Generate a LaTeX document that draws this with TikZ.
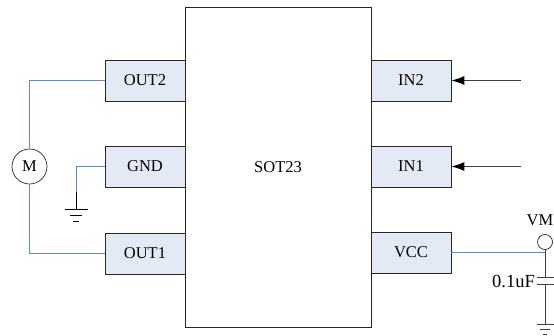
\documentclass[tikz,border=0pt]{standalone}
\usepackage{fontspec}
\setmainfont{Liberation Serif}
\usetikzlibrary{arrows.meta}
\definecolor{pinfill}{RGB}{228,234,245}
\definecolor{wireblue}{RGB}{90,140,210}
\tikzset{
	pinbox/.style={draw=black!85, fill=pinfill, line width=0.8pt, minimum width=80pt, minimum height=41pt, inner sep=0pt, font=\fontsize{16.5}{16.5}\selectfont},
	wire/.style={draw=wireblue, line width=0.85pt},
	lead/.style={draw=black!75, line width=0.9pt},
	lbl/.style={inner sep=0pt, font=\fontsize{16.5}{16.5}\selectfont},
	biglbl/.style={inner sep=0pt, font=\fontsize{18.5}{18.5}\selectfont}
}
\begin{document}
\begin{tikzpicture}[x=1pt, y=-1pt]
		\useasboundingbox (0,0) rectangle (554,335);
		
		\node[draw=black!85, fill=white, line width=0.8pt, minimum width=186pt, minimum height=320pt, inner sep=0pt, lbl] (SOT) at (278,167) {SOT23};
		
		\node[pinbox] (OUTtwo) at (145,80.5) {OUT2};
		\node[pinbox] (GND) at (145,166.5) {GND};
		\node[pinbox] (OUTone) at (145,253.5) {OUT1};
		\node[pinbox] (INtwo) at (411,80.5) {IN2};
		\node[pinbox] (INone) at (411,166.5) {IN1};
		\node[pinbox] (VCC) at (411,252.5) {VCC};
		
		\node[draw=black!85, circle, minimum size=35pt, inner sep=0pt, line width=0.7pt, lbl] (M) at (29.5,166.5) {M};
		\node[draw=black!85, circle, minimum size=15pt, inner sep=0pt, line width=0.7pt] (VMpad) at (545,242) {};
		\node[lbl, anchor=east] (VMtext) at (553.5,220) {VM};
		\node[biglbl, anchor=east] (Clabel) at (535,281) {0.1uF};
		
		\coordinate (GNDbend) at (76,192);
		\coordinate (GNDa) at (76,209);
		\coordinate (INtwoend) at (521,80.5);
		\coordinate (INoneend) at (521,166.5);
		\coordinate (VCCnode) at (545,252.5);
		\coordinate (Ctop) at (545,277);
		\coordinate (Cbot) at (545,284);
		\coordinate (Ra) at (545,324);
		
		\draw[wire] (OUTtwo.west) -| (M.north);
		\draw[wire] (OUTone.west) -| (M.south);
		\draw[wire] (GND.west) -| (GNDbend);
		\draw[lead, black] (GNDbend) -- (GNDa);
		\draw[lead, black] (64.5,209) -- (87.5,209);
		\draw[lead, black] (70,215) -- (82,215);
		\draw[lead, black] (73,221) -- (79,221);
		
		\draw[wire] (VCC.east) -- (VCCnode);
		\draw[lead] (VMpad.south) -- (Ctop);
		\draw[lead] (537,277) -- (554,277);
		\draw[lead] (537,284) -- (554,284);
		\draw[lead] (Cbot) -- (Ra);
		\draw[lead] (536.5,324) -- (553.5,324);
		\draw[lead] (540,329.5) -- (550,329.5);
		\draw[lead] (543,334) -- (547,334);
		
		\draw[lead, -{Latex[black, length=13pt, width=9pt]}] (INtwoend) -- (INtwo.east);
		\draw[lead, -{Latex[black, length=13pt, width=9pt]}] (INoneend) -- (INone.east);
		\end{tikzpicture}
\end{document}
